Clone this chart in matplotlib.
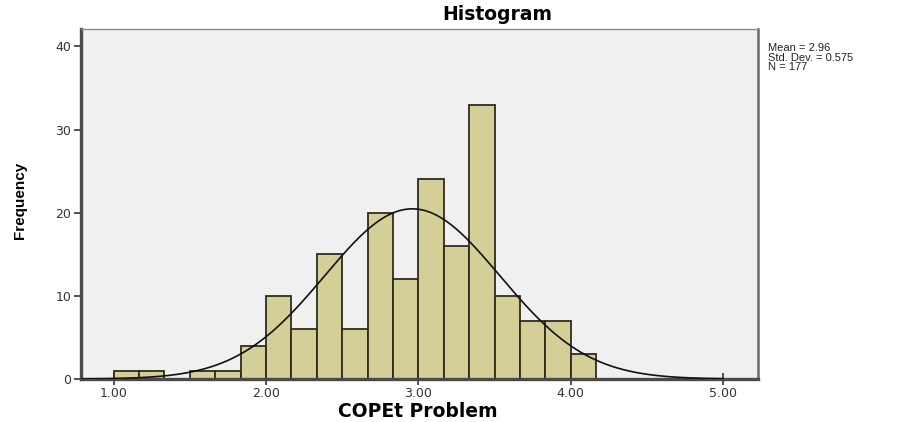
import numpy as np
import matplotlib
matplotlib.use("Agg")
from matplotlib import pyplot as plt
from matplotlib import font_manager

# frequencies per bin, bins are 1/6 wide starting at 1.00
bin_start = 1.0
bin_width = 1.0 / 6
counts = [1, 1, 0, 1, 1, 4, 10, 6, 15, 6, 20, 12, 24, 16, 33, 10, 7, 7, 3]

mean = 2.96
std_dev = 0.575
n_total = 177

x_ticks = [1.0, 2.0, 3.0, 4.0, 5.0]
x_tick_labels = ["1.00", "2.00", "3.00", "4.00", "5.00"]
y_ticks = [0, 10, 20, 30, 40]

BAR_COLOR = "#d4cf96"
EDGE_COLOR = "#2e2c1c"
BG_COLOR = "#f0f0f0"

plt.rcParams['font.family'] = ['Liberation Sans', 'DejaVu Sans']

# condensed face for the y label if one is installed
names = set(f.name for f in font_manager.fontManager.ttflist)
if 'Liberation Sans Narrow' in names:
    ylab_family, ylab_size = 'Liberation Sans Narrow', 11.3
else:
    ylab_family, ylab_size = 'Liberation Sans', 11

fig = plt.figure(figsize=(9.09, 4.22), dpi=100)
ax = fig.add_axes([0.0891, 0.1019, 0.7445, 0.8294])
ax.set_facecolor(BG_COLOR)

edges = bin_start + bin_width * np.arange(len(counts) + 1)
ax.bar(edges[:-1], counts, width=bin_width, align='edge',
       color=BAR_COLOR, edgecolor=EDGE_COLOR, linewidth=1.3, zorder=2)

# normal curve scaled to the histogram counts
xs = np.linspace(0.786, 5.0, 400)
ys = n_total * bin_width * np.exp(-0.5 * ((xs - mean) / std_dev) ** 2) / (std_dev * np.sqrt(2 * np.pi))
ax.plot(xs, ys, color="#111111", linewidth=1.2, zorder=3)

ax.set_xlim(0.786, 5.227)
ax.set_ylim(0, 42.1)
ax.set_xticks(x_ticks)
ax.set_xticklabels(x_tick_labels, family='DejaVu Sans')
ax.set_yticks(y_ticks)
ax.set_yticklabels([str(v) for v in y_ticks], family='DejaVu Sans')

ax.tick_params(axis='x', direction='inout', length=8, width=1.2, color="#333333",
               labelsize=9, labelcolor="#333333", pad=2)
ax.tick_params(axis='y', direction='out', length=5, width=1.2, color="#333333",
               labelsize=9, labelcolor="#333333", pad=2)

for side in ['left', 'bottom']:
    ax.spines[side].set_linewidth(2.4)
    ax.spines[side].set_color("#4a4a4a")
ax.spines['right'].set_linewidth(1.8)
ax.spines['right'].set_color("#6a6a6a")
ax.spines['top'].set_linewidth(1.0)
ax.spines['top'].set_color("#8a8a8a")

fig.text(0.547, 0.966, "Histogram", ha='center', va='center',
         fontsize=13.5, fontweight='bold', family='DejaVu Sans')
fig.text(0.46, 0.026, "COPEt Problem", ha='center', va='center',
         fontsize=13.5, fontweight='bold', family='DejaVu Sans')
fig.text(0.022, 0.526, "Frequency", ha='center', va='center', rotation=90,
         fontsize=ylab_size, fontweight='bold', family=ylab_family)

stats = "Mean = %.2f\nStd. Dev. = %.3f\nN = %d" % (mean, std_dev, n_total)
fig.text(0.845, 0.897, stats, ha='left', va='top', fontsize=8,
         linespacing=0.92, color="#222222")

fig.savefig("out.png", dpi=100)
